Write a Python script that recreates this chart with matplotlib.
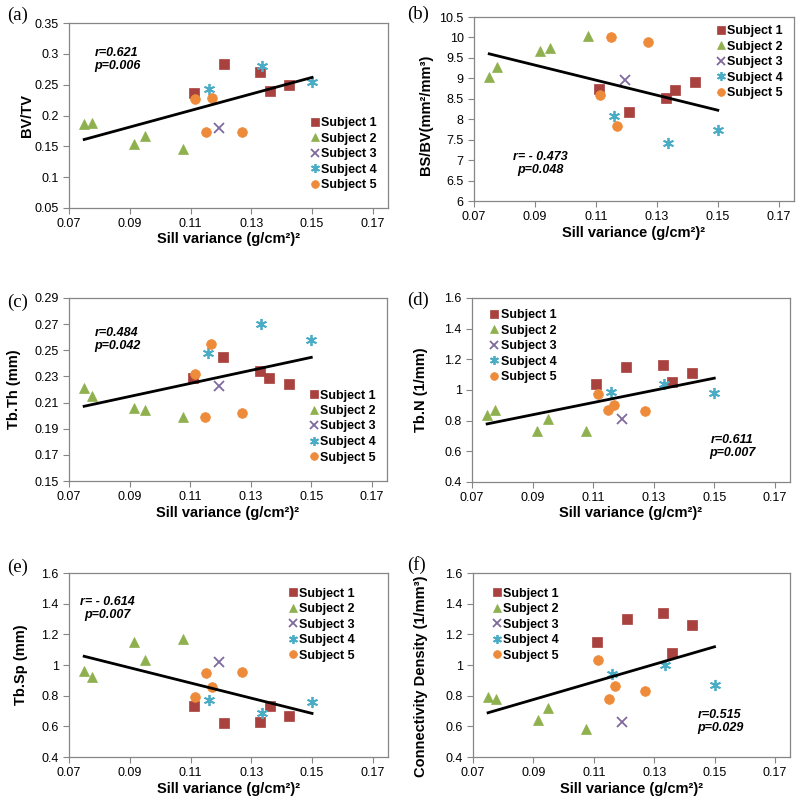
import numpy as np
import matplotlib
matplotlib.use("Agg")
import matplotlib.pyplot as plt
from matplotlib.ticker import FormatStrFormatter

plt.rcParams['font.family'] = ['Liberation Sans', 'DejaVu Sans']

# sill variance (x) for each subject - same in every panel
x_s1 = [0.111, 0.121, 0.133, 0.136, 0.1425]
x_s2 = [0.075, 0.0775, 0.0915, 0.095, 0.1075]
x_s3 = [0.1195]
x_s4 = [0.116, 0.1335, 0.150]
x_s5 = [0.1115, 0.115, 0.117, 0.127]

# (a) BV/TV
bvtv_s1 = [0.236, 0.284, 0.270, 0.239, 0.250]
bvtv_s2 = [0.186, 0.188, 0.153, 0.166, 0.146]
bvtv_s3 = [0.180]
bvtv_s4 = [0.243, 0.280, 0.254]
bvtv_s5 = [0.227, 0.174, 0.229, 0.174]

# (b) BS/BV
bsbv_s1 = [8.75, 8.17, 8.53, 8.72, 8.90]
bsbv_s2 = [9.04, 9.27, 9.68, 9.75, 10.04]
bsbv_s3 = [8.96]
bsbv_s4 = [8.07, 7.43, 7.74]
bsbv_s5 = [8.60, 10.0, 7.84, 9.88]

# (c) Tb.Th
tbth_s1 = [0.229, 0.245, 0.234, 0.229, 0.224]
tbth_s2 = [0.221, 0.215, 0.206, 0.204, 0.199]
tbth_s3 = [0.223]
tbth_s4 = [0.248, 0.270, 0.258]
tbth_s5 = [0.232, 0.199, 0.255, 0.202]

# (d) Tb.N
tbn_s1 = [1.04, 1.15, 1.16, 1.05, 1.11]
tbn_s2 = [0.84, 0.87, 0.73, 0.81, 0.73]
tbn_s3 = [0.81]
tbn_s4 = [0.99, 1.04, 0.98]
tbn_s5 = [0.975, 0.87, 0.90, 0.865]

# (e) Tb.Sp
tbsp_s1 = [0.73, 0.62, 0.63, 0.73, 0.67]
tbsp_s2 = [0.96, 0.92, 1.15, 1.03, 1.17]
tbsp_s3 = [1.02]
tbsp_s4 = [0.77, 0.69, 0.76]
tbsp_s5 = [0.79, 0.95, 0.855, 0.955]

# (f) Connectivity density
conn_s1 = [1.15, 1.30, 1.34, 1.08, 1.26]
conn_s2 = [0.79, 0.78, 0.64, 0.72, 0.58]
conn_s3 = [0.63]
conn_s4 = [0.94, 1.00, 0.87]
conn_s5 = [1.03, 0.78, 0.86, 0.83]

subjects = ['Subject 1', 'Subject 2', 'Subject 3', 'Subject 4', 'Subject 5']
xs = [x_s1, x_s2, x_s3, x_s4, x_s5]
colors = ['#A9413F', '#8FB04E', '#7F6A9E', '#4BACC6', '#EE8B3A']
markers = ['s', '^', 'x', (6, 2, 0), 'o']
msizes = [7, 7, 7, 8, 7]

W, H = 800, 802
fig = plt.figure(figsize=(8, 8.02), dpi=100)

def px_axes(l, t, r, b):
    return fig.add_axes([l / W, 1 - b / H, (r - l) / W, (b - t) / H])

# tag, axes box (l,t,r,b px), ylabel, yticks, data, legend anchor, r/p text,
# text pos, tag pos, ylabel position (axes frac)
panels = [
    ('(a)', (69, 23, 388, 208), 'BV/TV', [0.05, 0.1, 0.15, 0.2, 0.25, 0.3, 0.35],
     [bvtv_s1, bvtv_s2, bvtv_s3, bvtv_s4, bvtv_s5], (0.755, 0.49),
     'r=0.621', 'p=0.006', (117, 53), (7, 15), (-0.11, 0.5)),
    ('(b)', (474, 17, 794, 201), 'BS/BV(mm²/mm³)', [6, 6.5, 7, 7.5, 8, 8.5, 9, 9.5, 10, 10.5],
     [bsbv_s1, bsbv_s2, bsbv_s3, bsbv_s4, bsbv_s5], (0.755, 0.955),
     'r= - 0.473', 'p=0.048', (540, 157), (407, 14), (-0.128, 0.47)),
    ('(c)', (69, 298, 387, 481), 'Tb.Th (mm)', [0.15, 0.17, 0.19, 0.21, 0.23, 0.25, 0.27, 0.29],
     [tbth_s1, tbth_s2, tbth_s3, tbth_s4, tbth_s5], (0.755, 0.50),
     'r=0.484', 'p=0.042', (117, 333), (7, 302), (-0.15, 0.5)),
    ('(d)', (472, 298, 790, 482), 'Tb.N (1/mm)', [0.4, 0.6, 0.8, 1.0, 1.2, 1.4, 1.6],
     [tbn_s1, tbn_s2, tbn_s3, tbn_s4, tbn_s5], (0.055, 0.94),
     'r=0.611', 'p=0.007', (732, 440), (407, 300), (-0.138, 0.5)),
    ('(e)', (69, 573, 388, 757), 'Tb.Sp (mm)', [0.4, 0.6, 0.8, 1.0, 1.2, 1.4, 1.6],
     [tbsp_s1, tbsp_s2, tbsp_s3, tbsp_s4, tbsp_s5], (0.685, 0.92),
     'r= - 0.614', 'p=0.007', (107, 602), (7, 567), (-0.128, 0.5)),
    ('(f)', (473, 573, 790, 757), 'Connectivity Density (1/mm³)', [0.4, 0.6, 0.8, 1.0, 1.2, 1.4, 1.6],
     [conn_s1, conn_s2, conn_s3, conn_s4, conn_s5], (0.06, 0.92),
     'r=0.515', 'p=0.029', (720, 715), (407, 565), (-0.142, 0.44)),
]

for tag, box, ylab, yticks, ys, leg_anchor, rtxt, ptxt, tpos, tagpos, ylpos in panels:
    ax = px_axes(*box)
    for i in range(5):
        ax.plot(xs[i], ys[i], linestyle='none', marker=markers[i], color=colors[i],
                markersize=msizes[i], markeredgewidth=1.3 if i in (2, 3) else 0.5,
                label=subjects[i])
    # linear trend over all points
    allx = np.concatenate(xs)
    ally = np.concatenate(ys)
    k, c = np.polyfit(allx, ally, 1)
    lx = np.array([allx.min(), allx.max()])
    ax.plot(lx, k * lx + c, color='black', lw=2, zorder=5)

    ax.set_xlim(0.07, 0.175)
    ax.set_xticks([0.07, 0.09, 0.11, 0.13, 0.15, 0.17])
    ax.set_ylim(yticks[0], yticks[-1])
    ax.set_yticks(yticks)
    ax.xaxis.set_major_formatter(FormatStrFormatter('%g'))
    ax.yaxis.set_major_formatter(FormatStrFormatter('%g'))
    ax.tick_params(labelsize=9, length=4, color='#868686', width=0.8)
    ax.tick_params(axis='x', pad=3)
    for s in ax.spines.values():
        s.set_color('#868686')
        s.set_linewidth(0.9)
    ax.set_xlabel('Sill variance (g/cm²)²', fontsize=10.5, fontweight='bold', labelpad=2)
    ax.set_ylabel(ylab, fontsize=10.5, fontweight='bold')
    ax.yaxis.set_label_coords(*ylpos)

    ax.legend(loc='upper left', bbox_to_anchor=leg_anchor, frameon=False,
              prop={'weight': 'bold', 'size': 9}, handlelength=0.8,
              handletextpad=0.1, labelspacing=0.28, borderaxespad=0,
              borderpad=0, markerscale=0.8)

    fig.text(tpos[0] / W, 1 - tpos[1] / H, rtxt, ha='center', va='center',
             fontsize=9, fontweight='bold', fontstyle='italic')
    fig.text(tpos[0] / W, 1 - (tpos[1] + 13) / H, ptxt, ha='center', va='center',
             fontsize=9, fontweight='bold', fontstyle='italic')

    fig.text(tagpos[0] / W, 1 - tagpos[1] / H, tag, ha='left', va='center',
             fontsize=13.5, family='Liberation Serif')

fig.savefig('out.png', dpi=100)
